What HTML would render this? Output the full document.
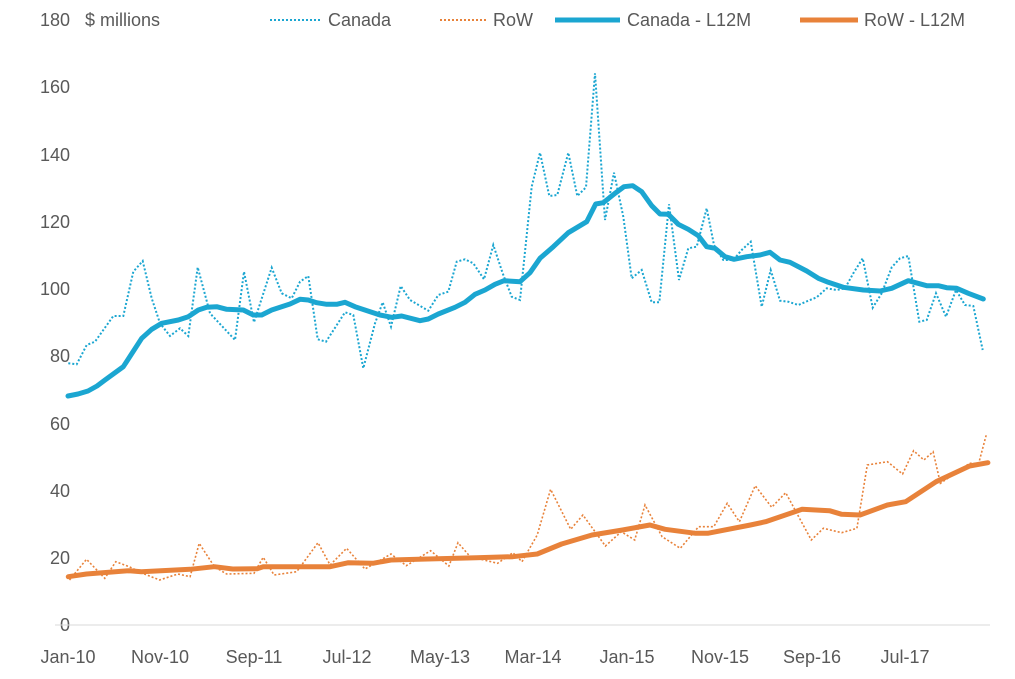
<!DOCTYPE html>
<html><head><meta charset="utf-8"><style>
html,body{margin:0;padding:0;background:#fff;}
svg text{font-family:"Liberation Sans",sans-serif;fill:#595959;font-size:18px;}
</style></head><body>
<svg id="s" width="1015" height="674" xmlns="http://www.w3.org/2000/svg">
<g text-anchor="end">
<text x="70" y="631">0</text><text x="70" y="564">20</text><text x="70" y="497">40</text>
<text x="70" y="430">60</text><text x="70" y="362">80</text><text x="70" y="295">100</text>
<text x="70" y="228">120</text><text x="70" y="161">140</text><text x="70" y="93">160</text>
<text x="70" y="26">180</text>
</g>
<text x="85" y="26">$ millions</text>
<line x1="55" y1="625" x2="990" y2="625" stroke="#d9d9d9" stroke-width="1"/>
<g text-anchor="middle">
<text x="68" y="663">Jan-10</text><text x="160" y="663">Nov-10</text><text x="254" y="663">Sep-11</text>
<text x="347" y="663">Jul-12</text><text x="440" y="663">May-13</text><text x="533" y="663">Mar-14</text>
<text x="627" y="663">Jan-15</text><text x="720" y="663">Nov-15</text><text x="812" y="663">Sep-16</text>
<text x="905" y="663">Jul-17</text>
</g>
<line x1="270" y1="20" x2="322" y2="20" stroke="#1ba6d1" stroke-width="2" stroke-dasharray="2,2"/>
<text x="328" y="26">Canada</text>
<line x1="440" y1="20" x2="488" y2="20" stroke="#e8823a" stroke-width="2" stroke-dasharray="2,2"/>
<text x="493" y="26">RoW</text>
<line x1="555" y1="20" x2="620" y2="20" stroke="#1ba6d1" stroke-width="5"/>
<text x="627" y="26">Canada - L12M</text>
<line x1="800" y1="20" x2="858" y2="20" stroke="#e8823a" stroke-width="5"/>
<text x="864" y="26">RoW - L12M</text>
<polyline id="cd" fill="none" stroke="#1ba6d1" stroke-width="2" stroke-dasharray="2,2"/>
<polyline id="rd" fill="none" stroke="#e8823a" stroke-width="1.6" stroke-dasharray="2,2"/>
<polyline id="cl" fill="none" stroke="#1ba6d1" stroke-width="5" stroke-linejoin="round" stroke-linecap="round"/>
<polyline id="rl" fill="none" stroke="#e8823a" stroke-width="5" stroke-linejoin="round" stroke-linecap="round"/>
</svg>
<script>
function m(a,ox,oy,sx,sy){var r=[];for(var i=0;i<a.length;i+=2)r.push((ox+a[i]/sx).toFixed(1)+","+(oy+a[i+1]/sy).toFixed(1));return r;}
var z1cd=[55,910,80,913,110,855,135,845,190,768,220,768,250,635,278,603,305,715,330,790,360,828,390,805,415,828,443,622,480,760,555,840,582,635,612,787,665,623,695,700,725,715,750,665,775,648,803,838,828,845,885,757,910,765,940,925,975,790,998,727,1023,800,1052,678,1080,720,1135,752,1165,705,1195,695,1220,605,1245,598,1270,610,1302,658,1330,555,1358,640,1385,710,1410,720];
var z2cd=[95,380,120,278,148,408,172,405,205,278,232,408,258,382,285,40,315,480,342,338,370,470,395,655,425,630,455,727,478,727,507,433,537,660,565,565,590,560,620,445,642,555,670,600,700,600,725,570,752,545,785,740,812,630,840,722,865,725,895,735,925,722,950,712,980,685,1010,690,1035,685,1060,640,1088,595,1118,743,1145,700,1175,622,1200,595,1225,588,1258,785,1280,780,1308,700,1338,770,1368,690,1395,735,1420,738,1448,870];
var cd=m(z1cd,50,60,3,3).concat(m(z2cd,500,60,3,3));
var z1cl=[220,920,275,835,305,808,335,790,385,780,415,770,445,750,470,742,500,740,530,748,580,750,610,765,635,765,665,750,720,732,750,718,775,720,800,728,830,733,860,733,885,727,915,740,990,765,1025,772,1055,768,1110,782,1135,777,1165,762,1215,742,1245,727,1275,703,1305,690,1335,673,1362,662,1410,665];
var z2cl=[90,638,120,595,160,560,205,518,260,485,287,432,310,428,345,400,372,380,398,377,425,395,455,437,480,462,505,463,535,493,565,508,595,527,620,560,645,565,675,590,702,598,740,590,780,585,810,577,840,600,870,607,920,633,955,655,985,667,1030,682,1090,690,1140,693,1175,685,1225,662,1280,677,1315,677,1340,683,1370,685,1405,700,1450,717];
var cl=["68,396","78,394","88,391","97,386","105,380"].concat(m(z1cl,50,60,3,3)).concat(m(z2cl,500,60,3,3));
var rdr=[32,480,60,418,90,475,108,425,130,440,155,462,180,480,210,462,230,470,245,370,270,440,290,462,335,460,350,412,368,465,405,455,440,368,460,435,487,385,517,447,560,402,585,437,625,392,655,438,670,368,690,410,735,430,760,398,775,425,800,345,822,208,855,328,875,285,912,378,938,335,960,360,977,255,1005,350,1035,385,1065,320,1090,320,1112,250,1132,305,1158,197,1185,262,1208,218,1250,360,1270,325,1300,338,1325,325,1342,135,1375,125,1400,162,1418,92,1435,120,1450,95,1462,190,1510,130,1525,130,1538,40];
var rlr=[30,470,60,462,130,452,150,455,230,448,270,440,300,447,340,446,350,440,410,440,460,440,490,428,530,430,560,420,620,417,700,413,760,410,800,402,840,372,890,345,940,330,985,315,1010,328,1060,340,1080,340,1150,315,1175,305,1235,268,1280,272,1300,283,1330,285,1375,255,1405,245,1455,185,1510,138,1540,128];
document.getElementById("cd").setAttribute("points",cd.join(" "));
document.getElementById("cl").setAttribute("points",cl.join(" "));
document.getElementById("rd").setAttribute("points",m(rdr,50,420,1.642,3).join(" "));
document.getElementById("rl").setAttribute("points",m(rlr,50,420,1.642,3).join(" "));
</script>
</body></html>
